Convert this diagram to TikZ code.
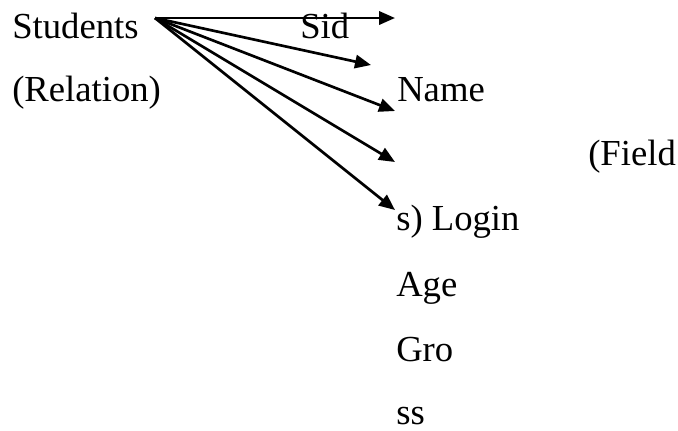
\documentclass[tikz,border=0pt]{standalone}
\usepackage{fontspec}
\setmainfont{Liberation Serif}
\usetikzlibrary{arrows.meta, positioning}

\tikzset{
  lbl/.style={anchor=base west, inner sep=0pt, font=\fontsize{27.5}{33}\selectfont},
  fieldarrow/.style={line width=2pt, -{Triangle[length=12pt,width=10pt]}}
}

\begin{document}
\begin{tikzpicture}[x=0.75pt,y=0.75pt,yscale=-1,xscale=1]
\useasboundingbox (0,0) rectangle (678,430);

% Relation side
\node [lbl] (stud) at (12,38) {Students};
\node [lbl] (rel) at (12,101) {(Relation)};

% Field names
\node [lbl] (sid) at (300,38) {Sid};
\node [lbl] (name) at (397,101) {Name};
\node [lbl] (fld) at (588,165) {(Field};
\node [lbl] (login) at (396,230) {s) Login};
\node [lbl] (age) at (396,296) {Age};
\node [lbl] (gro) at (396,361) {Gro};
\node [lbl] (ss) at (396,424) {ss};

% Arrow fan
\coordinate (hub) at (155,18);
\coordinate (t1) at (395,18);
\coordinate (t2) at (371,65);
\coordinate (t3) at (395,111);
\coordinate (t4) at (395,162);
\coordinate (t5) at (395,210);

\foreach \t in {t1,t2,t3,t4,t5}
  \draw [fieldarrow] (hub) -- (\t);

\end{tikzpicture}
\end{document}
